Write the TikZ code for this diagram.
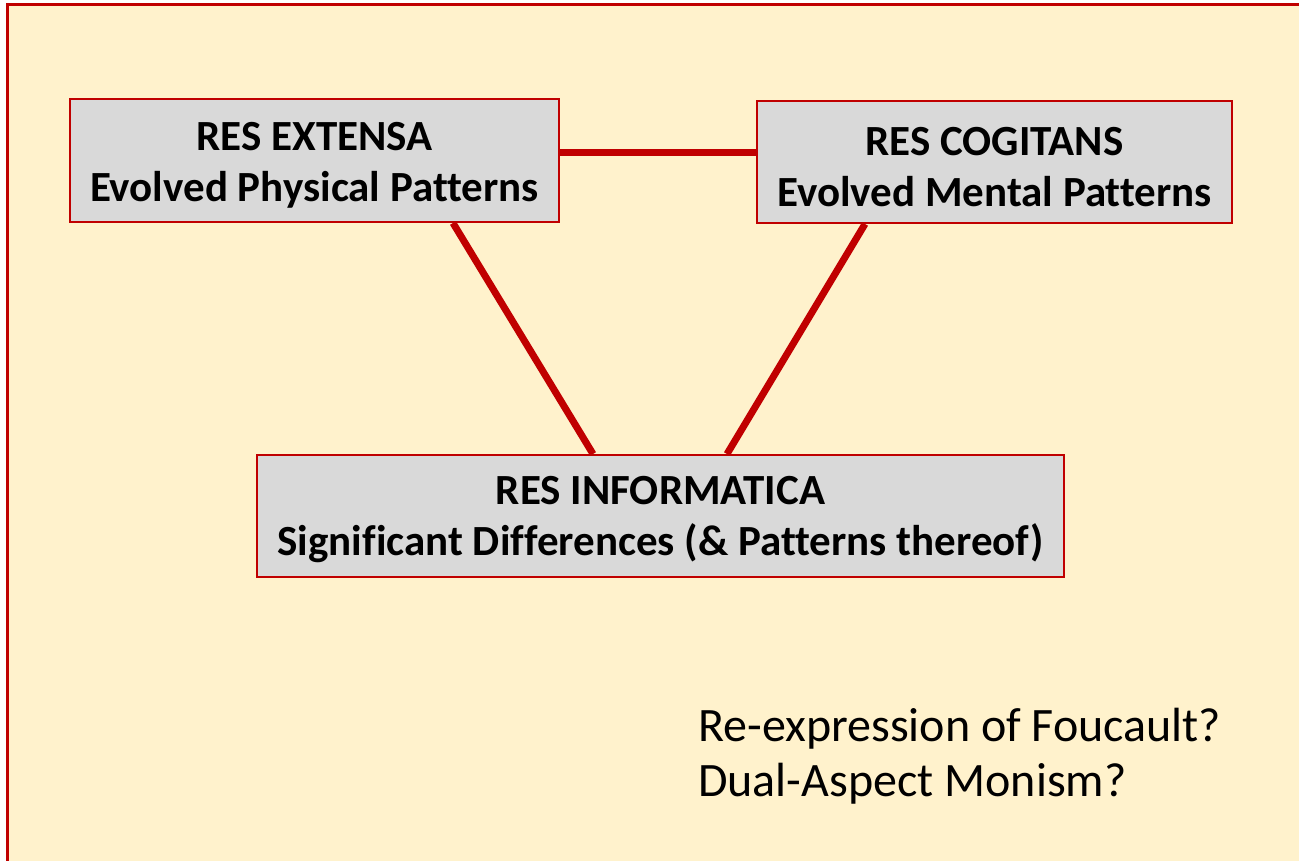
\documentclass[tikz,border=0pt]{standalone}
\usepackage{fontspec}
\setmainfont{Carlito}[Ligatures=NoCommon]
\definecolor{bgyellow}{HTML}{FFF2CC}
\definecolor{boxgray}{HTML}{D9D9D9}
\definecolor{darkred}{HTML}{C00000}
\begin{document}
\begin{tikzpicture}[x=1pt,y=-1pt,
  resbox/.style={draw=darkred,line width=2pt,fill=boxgray,inner sep=0pt},
  boxtext/.style={inner sep=0pt,align=center,font=\fontsize{43}{51}\selectfont\bfseries},
  link/.style={draw=darkred,line width=7pt}]
\useasboundingbox (0,0) rectangle (1299,860);
\begin{scope}
\clip (0,0) rectangle (1299,860);
\draw[draw=darkred,line width=3pt,fill=bgyellow] (7,4.5) rectangle (1320,880);
\end{scope}
\node[resbox,minimum width=489pt,minimum height=123pt] (A) at (314.5,160.5) {};
\node[resbox,minimum width=475pt,minimum height=122pt] (B) at (994.5,162) {};
\node[resbox,minimum width=807pt,minimum height=122pt] (C) at (660.5,516) {};
\node[boxtext] (At) at ([yshift=-5pt]A.center) {RES EXTENSA\\Evolved Physical Patterns};
\node[boxtext] (Bt) at ([yshift=-5pt]B.center) {RES COGITANS\\Evolved Mental Patterns};
\node[boxtext] (Ct) at ([yshift=-4pt]C.center) {RES INFORMATICA\\Significant Differences (\& Patterns thereof)};
\draw[link] ([yshift=8.5pt]A.east) -- ([yshift=10pt]B.west);
\draw[link] ([xshift=138.5pt]A.south) -- ([xshift=-67.5pt]C.north);
\draw[link] ([xshift=-129.5pt]B.south) -- ([xshift=66.5pt]C.north);
\node[anchor=base west,inner sep=0pt,align=left,font=\fontsize{48}{55}\selectfont] (Q) at (698,796)
  {Re-expression of Foucault?\\Dual-Aspect Monism?};
\end{tikzpicture}
\end{document}
